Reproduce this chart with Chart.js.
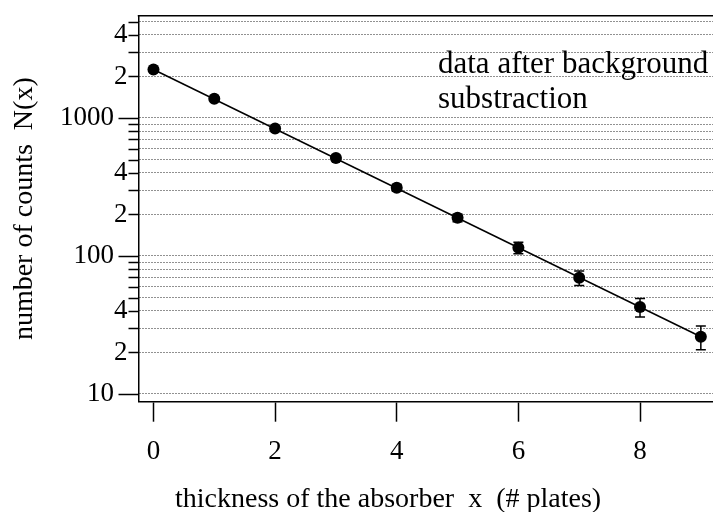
<!DOCTYPE html>
<html><head><meta charset="utf-8">
<script src="https://cdn.jsdelivr.net/npm/chart.js@4.4.1/dist/chart.umd.min.js"></script>
<style>html,body{margin:0;padding:0;background:#fff;} #wrap{width:713px;height:512px;position:relative;}</style>
</head><body><div id="wrap"><canvas id="c"></canvas></div>
<script>
// ---- data ----
const plates = [0, 1, 2, 3, 4, 5, 6, 7, 8, 9];
const counts = [2245, 1378, 839, 512, 312, 189, 114.7, 69.5, 42.6, 26.0];
const countErrors = [47, 37, 29, 23, 18, 12, 11, 8.3, 6.5, 5.1];
const fitPlates = [0, 9];
const fitCounts = [2245, 26.0];
const yGridValues = [10,20,30,40,50,60,70,80,90,100,200,300,400,500,600,700,800,900,1000,2000,3000,4000,5000];
const yLabelMap = {10:'10', 20:'2', 40:'4', 100:'100', 200:'2', 400:'4', 1000:'1000', 2000:'2', 4000:'4'};
const yMajorValues = [10, 100, 1000];
const xTickValues = [0, 2, 4, 6, 8];
const noteLines = ['data after background', 'substraction'];
const xTitle = 'thickness of the absorber  x  (# plates)';
const yTitle = 'number of counts  N(x)';

const FONT = "'Liberation Serif', 'Times New Roman', serif";
Chart.defaults.font.family = FONT;
Chart.defaults.color = '#000';

const decor = {
  id: 'decor',
  beforeDatasetsDraw(chart) {
    const {ctx, scales: {x, y}} = chart;
    ctx.save();
    ctx.strokeStyle = '#000';
    ctx.lineWidth = 1.5;
    plates.forEach((p, i) => {
      const px = x.getPixelForValue(p);
      const hi = y.getPixelForValue(counts[i] + countErrors[i]);
      const lo = y.getPixelForValue(counts[i] - countErrors[i]);
      ctx.beginPath();
      ctx.moveTo(px, hi); ctx.lineTo(px, lo);
      ctx.moveTo(px - 5, hi); ctx.lineTo(px + 5, hi);
      ctx.moveTo(px - 5, lo); ctx.lineTo(px + 5, lo);
      ctx.stroke();
    });
    ctx.restore();
  },
  afterDraw(chart) {
    const {ctx, chartArea: a, scales: {y}} = chart;
    ctx.save();
    ctx.strokeStyle = '#000';
    ctx.lineWidth = 1.5;
    // top frame line
    ctx.beginPath();
    ctx.moveTo(a.left - 0.75, a.top); ctx.lineTo(a.right, a.top);
    ctx.stroke();
    // y tick marks (long for decades, short otherwise)
    y.ticks.forEach(t => {
      const py = Math.round(y.getPixelForValue(t.value)) + 0.5;
      const len = yMajorValues.includes(t.value) ? 20 : 10;
      ctx.beginPath();
      ctx.moveTo(a.left, py); ctx.lineTo(a.left - len, py);
      ctx.stroke();
    });
    // x axis title
    ctx.fillStyle = '#000';
    ctx.font = '28px ' + FONT;
    ctx.textAlign = 'left';
    ctx.textBaseline = 'alphabetic';
    ctx.fillText(xTitle, a.left + 36.5, a.bottom + 105.5);
    // annotation
    ctx.font = '31px ' + FONT;
    noteLines.forEach((s, i) => ctx.fillText(s, a.left + 299.5, a.top + 57.5 + i * 35));
    ctx.restore();
  }
};

new Chart(document.getElementById('c'), {
  type: 'scatter',
  data: {
    datasets: [
      {
        label: 'fit',
        data: fitPlates.map((p, i) => ({x: p, y: fitCounts[i]})),
        showLine: true,
        borderColor: '#000',
        borderWidth: 1.5,
        pointRadius: 0,
        fill: false
      },
      {
        label: 'data',
        data: plates.map((p, i) => ({x: p, y: counts[i]})),
        pointRadius: 6,
        pointBackgroundColor: '#000',
        pointBorderWidth: 0,
        showLine: false
      }
    ]
  },
  options: {
    responsive: true,
    maintainAspectRatio: false,
    animation: false,
    events: [],
    layout: {autoPadding: false, padding: {top: 15.7, right: 0, bottom: 0, left: 0}},
    plugins: {legend: {display: false}, tooltip: {enabled: false}},
    scales: {
      x: {
        type: 'linear',
        min: -0.246,
        max: 9.2,
        afterBuildTicks(scale) { scale.ticks = xTickValues.map(v => ({value: v})); },
        afterFit(scale) { scale.height = 110.3; scale.paddingLeft = 0; scale.paddingRight = 0; },
        grid: {drawOnChartArea: false, drawTicks: true, tickLength: 20, tickColor: '#000', tickWidth: 1.5},
        border: {display: true, color: '#000', width: 1.5},
        ticks: {font: {size: 27}, padding: 14, color: '#000', autoSkip: false, maxRotation: 0, includeBounds: false,
                callback: v => String(v)}
      },
      y: {
        type: 'logarithmic',
        min: 8.79,
        max: 5510,
        afterBuildTicks(scale) { scale.ticks = yGridValues.map(v => ({value: v, major: yMajorValues.includes(v)})); },
        afterFit(scale) { scale.width = 138.5; scale.paddingTop = 0; scale.paddingBottom = 0; },
        grid: {drawOnChartArea: true, drawTicks: false, color: '#222', lineWidth: 1},
        border: {display: true, color: '#000', width: 1.5, dash: [1, 2]},
        ticks: {font: {size: 27}, padding: 11, color: '#000', autoSkip: false,
                callback: v => yLabelMap[v] === undefined ? '' : (yMajorValues.includes(v) ? yLabelMap[v] + '\u2007' : yLabelMap[v])},
        title: {display: true, text: yTitle, font: {size: 28, lineHeight: 1}, padding: {top: 10.5, bottom: 0}, color: '#000'}
      }
    }
  },
  plugins: [decor]
});
</script>
</body></html>
